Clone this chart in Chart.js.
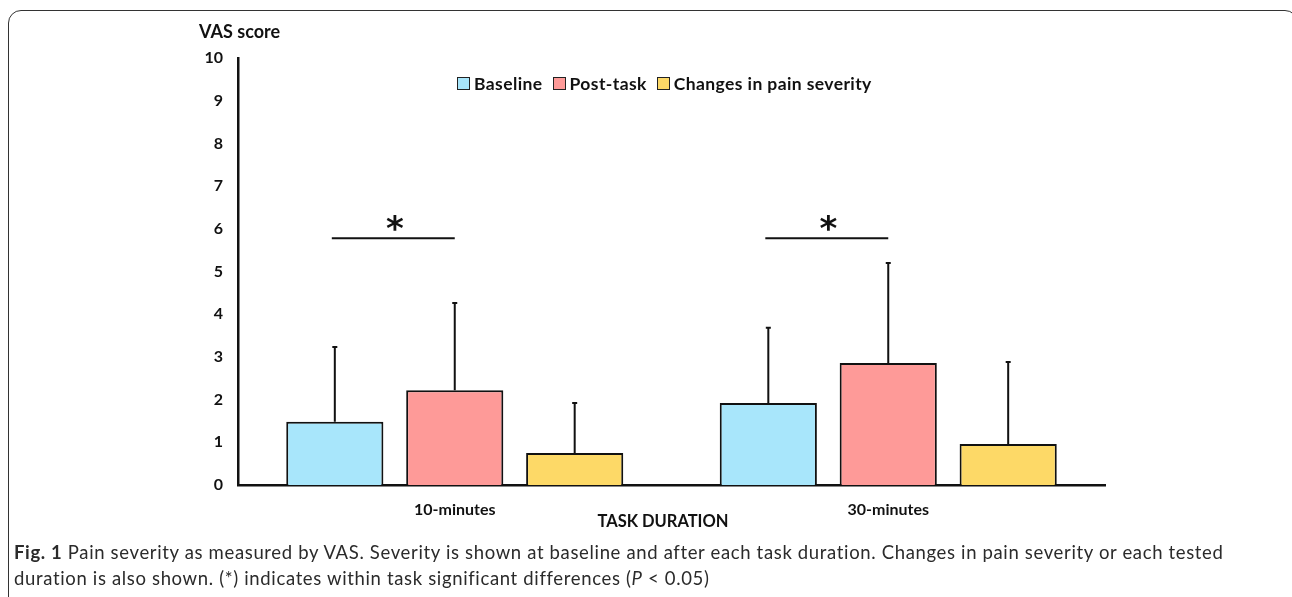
<!DOCTYPE html>
<html>
<head>
<meta charset="utf-8">
<script src="https://cdn.jsdelivr.net/npm/chart.js@4"></script>
<style>
    body { margin: 0; background: #fff; width: 1292px; height: 597px; overflow: hidden; position: relative; }
    .frame {
        position: absolute; left: 8px; top: 10px; width: 1290px; height: 620px;
        border: 1.5px solid #333; border-radius: 13px; box-sizing: border-box;
    }
    .chart-box { position: absolute; left: 0; top: 0; width: 1292px; height: 540px; }
    .legend {
        position: absolute; top: 73px; left: 457px; display: flex; align-items: center;
        font-family: Lato, sans-serif; font-weight: bold; font-size: 17.5px; color: #111;
        letter-spacing: 0.4px;
    }
    .legend span.box { display: inline-block; width: 11px; height: 11px; border: 1.5px solid #222; margin-right: 4px; }
    .legend span.item { display: flex; align-items: center; margin-right: 10px; }
    .caption {
        position: absolute; left: 14px; top: 539px; width: 1275px;
        font-family: Lato, sans-serif; font-size: 18.5px; line-height: 26px; color: #2b2b2b;
        letter-spacing: 0.65px; white-space: nowrap;
    }
</style>
</head>
<body>
<div class="frame"></div>
<div class="chart-box"><canvas id="vasChart"></canvas></div>
<div class="legend" id="legend"></div>
<div class="caption"><b>Fig. 1</b> Pain severity as measured by VAS. Severity is shown at baseline and after each task duration. Changes in pain severity or each tested<br>duration is also shown. (*) indicates within task significant differences (<i>P</i> &lt; 0.05)</div>

<script>
// chart data
const categories = ['10-minutes', '30-minutes'];
const seriesNames = ['Baseline', 'Post-task', 'Changes in pain severity'];
const baseline = [1.48, 1.92];
const postTask = [2.22, 2.86];
const changes = [0.75, 0.96];
const baselineSD = [1.75, 1.76];
const postTaskSD = [2.04, 2.34];
const changesSD = [1.17, 1.92];
const sigLevel = [5.78, 5.78];   // height of the significance bar per group
const yMin = 0, yMax = 10, yStep = 1;

const colors = ['#a8e6fb', '#fe9a98', '#fdd967'];
const errors = [baselineSD, postTaskSD, changesSD];

// legend built from the series
const legend = document.getElementById('legend');
seriesNames.forEach((name, i) => {
    const item = document.createElement('span');
    item.className = 'item';
    item.innerHTML = '<span class="box" style="background:' + colors[i] + '"></span>' + name;
    legend.appendChild(item);
});

// error bars, significance bars, extra labels
const extrasPlugin = {
    id: 'extras',
    afterDatasetsDraw(chart) {
        const c = chart.ctx;
        const y = chart.scales.y;
        const area = chart.chartArea;
        c.save();
        c.strokeStyle = '#111';
        c.lineWidth = 2;
        chart.data.datasets.forEach((ds, i) => {
            chart.getDatasetMeta(i).data.forEach((bar, j) => {
                const top = y.getPixelForValue(ds.data[j] + errors[i][j]);
                c.beginPath();
                c.moveTo(bar.x, bar.y);
                c.lineTo(bar.x, top);
                c.moveTo(bar.x - 2.5, top);
                c.lineTo(bar.x + 2.5, top);
                c.stroke();
            });
        });
        // significance between baseline and post-task
        categories.forEach((cat, j) => {
            const x1 = chart.getDatasetMeta(0).data[j].x;
            const x2 = chart.getDatasetMeta(1).data[j].x;
            const ly = y.getPixelForValue(sigLevel[j]);
            c.beginPath();
            c.moveTo(x1 - 3, ly);
            c.lineTo(x2, ly);
            c.stroke();
            c.font = 'bold 34px "DejaVu Sans"';
            c.fillStyle = '#111';
            c.textAlign = 'center';
            c.textBaseline = 'alphabetic';
            const m = c.measureText('*');
            const mid = (m.actualBoundingBoxAscent - m.actualBoundingBoxDescent) / 2;
            c.fillText('*', (x1 + x2) / 2, ly - 15 + mid);
        });
        // axis titles
        c.fillStyle = '#111';
        c.font = 'bold 18px Lato';
        c.textAlign = 'left';
        c.textBaseline = 'middle';
        c.fillText('VAS score', area.left - 39, 32);
        c.font = 'bold 16.5px Lato';
        c.textAlign = 'center';
        c.fillText('TASK DURATION', area.left + 425, 522);
        c.restore();
    }
};

const ctx = document.getElementById('vasChart').getContext('2d');
const vasChart = new Chart(ctx, {
    type: 'bar',
    data: {
        labels: categories,
        datasets: [baseline, postTask, changes].map((d, i) => ({
            label: seriesNames[i],
            data: d,
            backgroundColor: colors[i],
            borderColor: '#111',
            borderWidth: 2,
            borderSkipped: 'bottom'
        }))
    },
    options: {
        responsive: true,
        maintainAspectRatio: false,
        animation: false,
        layout: { padding: { left: 188, right: 187, top: 58, bottom: 10 } },
        plugins: { legend: { display: false }, tooltip: { enabled: false } },
        datasets: { bar: { categoryPercentage: 0.83, barPercentage: 0.81 } },
        scales: {
            x: {
                grid: { display: false, drawTicks: false },
                border: { display: true, color: '#111', width: 2.5 },
                ticks: { color: '#111', padding: 15, font: { family: 'Lato', weight: 'bold', size: 16 } },
                afterFit(scale) { scale.height = 45; }
            },
            y: {
                min: yMin,
                max: yMax,
                grid: { display: false, drawTicks: false },
                border: { display: true, color: '#111', width: 2.5 },
                ticks: { stepSize: yStep, color: '#111', padding: 15, font: { family: 'Lato', weight: 'bold', size: 16 } },
                afterFit(scale) { scale.width = 50; }
            }
        }
    },
    plugins: [extrasPlugin]
});
</script>
</body>
</html>
